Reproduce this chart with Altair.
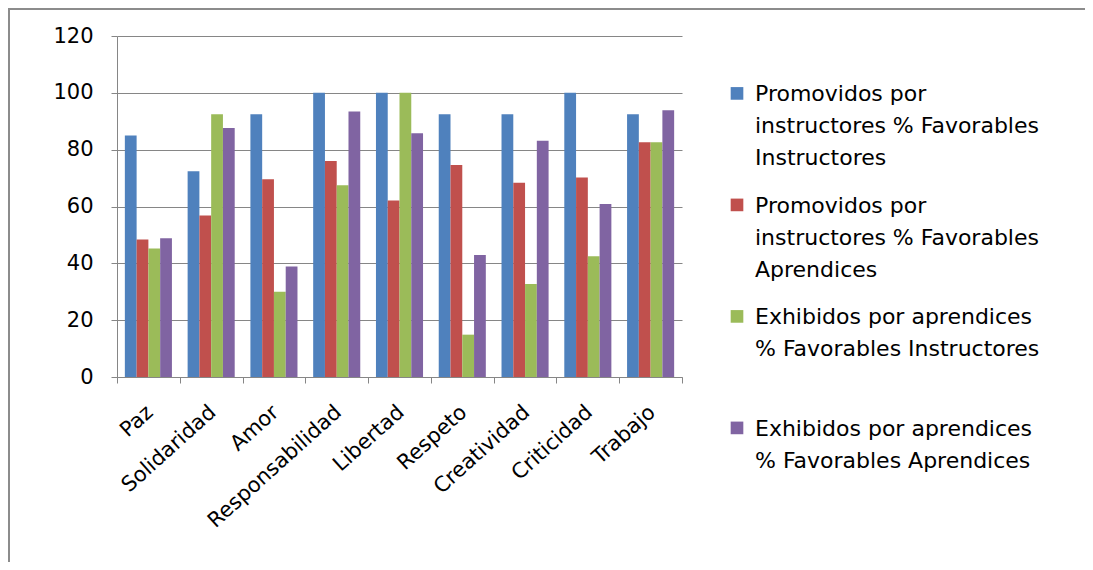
import altair as alt
import pandas as pd

categories = ["Paz", "Solidaridad", "Amor", "Responsabilidad", "Libertad",
              "Respeto", "Creatividad", "Criticidad", "Trabajo"]
series = [
    "Promovidos por instructores % Favorables Instructores",
    "Promovidos por instructores % Favorables Aprendices",
    "Exhibidos por aprendices % Favorables Instructores",
    "Exhibidos por aprendices % Favorables Aprendices",
]
legend_lines = [
    ["Promovidos por", "instructores % Favorables", "Instructores"],
    ["Promovidos por", "instructores % Favorables", "Aprendices"],
    ["Exhibidos por aprendices", "% Favorables Instructores"],
    ["Exhibidos por aprendices", "% Favorables Aprendices"],
]
colors = ["#4F81BD", "#C0504D", "#9BBB59", "#8064A2"]

prom_instr = [85, 72.4, 92.5, 100, 100, 92.5, 92.5, 100, 92.5]
prom_apren = [48.4, 56.8, 69.6, 76, 62.1, 74.6, 68.4, 70.2, 82.6]
exhi_instr = [45.2, 92.5, 30, 67.5, 100, 14.9, 32.7, 42.5, 82.6]
exhi_apren = [48.8, 87.6, 38.9, 93.4, 85.8, 42.9, 83.1, 60.9, 93.9]

values = [prom_instr, prom_apren, exhi_instr, exhi_apren]
rows = []
for s, vals in zip(series, values):
    for c, v in zip(categories, vals):
        rows.append({"categoria": c, "serie": s, "valor": v})
df = pd.DataFrame(rows)

label_expr = ""
for s, lines in zip(series, legend_lines):
    arr = "[" + ",".join("'" + l.replace("'", "\\'") + "'" for l in lines) + "]"
    label_expr += f"datum.label == '{s}' ? {arr} : "
label_expr += "datum.label"

font = "DejaVu Sans"
gray = "#868686"

bars = alt.Chart(df).mark_bar().encode(
    x=alt.X("categoria:N", sort=categories,
            scale=alt.Scale(paddingInner=0, paddingOuter=0),
            axis=alt.Axis(title=None, labelAngle=-42, labelFontSize=21,
                          labelFont=font, labelColor="#000000",
                          tickBand="extent", ticks=True, tickSize=6,
                          tickColor=gray, domainColor=gray,
                          labelPadding=18, labelOffset=-6, grid=False)),
    xOffset=alt.XOffset("serie:N", sort=series,
                        scale=alt.Scale(paddingInner=0, paddingOuter=0.667)),
    y=alt.Y("valor:Q", scale=alt.Scale(domain=[0, 120]),
            axis=alt.Axis(title=None, values=[0, 20, 40, 60, 80, 100, 120],
                          labelFontSize=21, labelFont=font, labelColor="#000000",
                          tickSize=6, tickColor=gray, domainColor=gray,
                          gridColor=gray, gridWidth=1, labelPadding=18)),
    color=alt.Color("serie:N", sort=series,
                    scale=alt.Scale(domain=series, range=colors),
                    legend=alt.Legend(title=None, orient="none",
                                      legendX=609, legendY=54,
                                      labelExpr=label_expr,
                                      labelFont=font, labelFontSize=22,
                                      labelColor="#000000",
                                      labelBaseline="alphabetic",
                                      labelLimit=600,
                                      symbolType="M-1,-2.2L1,-2.2L1,-0.2L-1,-0.2Z",
                                      symbolSize=160,
                                      symbolStrokeWidth=0,
                                      labelOffset=7,
                                      gridAlign="all", rowPadding=25.5)),
)

frame_data = pd.DataFrame({"k": [0]})
top_border = alt.Chart(frame_data).mark_rule(
    color="#8c8c8c", strokeWidth=2, clip=False
).encode(x=alt.value(-109), x2=alt.value(980), y=alt.value(-27))
left_border = alt.Chart(frame_data).mark_rule(
    color="#8c8c8c", strokeWidth=2, clip=False
).encode(x=alt.value(-108), y=alt.value(-27), y2=alt.value(540))

chart = alt.layer(bars, top_border, left_border).properties(
    width=565, height=341,
    autosize=alt.AutoSizeParams(type="none"),
    padding={"left": 109, "top": 28, "right": 403, "bottom": 185},
).configure(
    style={"guide-label": {"lineHeight": 32}}
).configure_view(stroke=None)

chart.save("out.html", embed_options={"renderer": "svg", "actions": False})
